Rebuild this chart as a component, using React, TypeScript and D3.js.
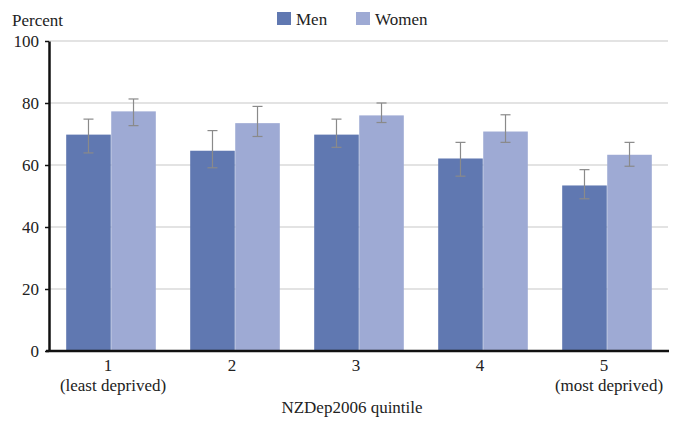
import React, { useEffect, useRef } from 'react';
import * as d3 from 'd3';

const quintiles = ['1', '2', '3', '4', '5'];
const subLabels = ['(least  deprived)', '', '', '', '(most deprived)'];
const menValues = [69.8, 64.6, 69.8, 62.1, 53.4];
const menLow = [63.9, 59.1, 65.7, 56.4, 49.1];
const menHigh = [74.8, 71.1, 74.8, 67.3, 58.5];
const womenValues = [77.3, 73.5, 76.0, 70.8, 63.3];
const womenLow = [72.7, 69.2, 73.7, 67.3, 59.6];
const womenHigh = [81.3, 78.9, 80.0, 76.2, 67.3];
const yTicks = [0, 20, 40, 60, 80, 100];

const App = () => {
  const chartRef = useRef<SVGSVGElement>(null);

  useEffect(() => {
    const svg = d3.select(chartRef.current);
    svg.selectAll('*').remove();

    const width = 677;
    const height = 421;
    const margin = { top: 41, right: 8, bottom: 70, left: 49 };
    const font = "'Liberation Serif', 'DejaVu Serif', serif";
    const fs = 17;

    const series = [
      { name: 'Men', values: menValues, low: menLow, high: menHigh, color: '#6078b1' },
      { name: 'Women', values: womenValues, low: womenLow, high: womenHigh, color: '#9eaad4' },
    ];

    const x = d3.scaleBand()
      .domain(quintiles)
      .range([margin.left, width - margin.right])
      .paddingInner(0.27)
      .paddingOuter(0.135);

    const xs = d3.scaleBand()
      .domain(series.map(s => s.name))
      .range([0, x.bandwidth()])
      .padding(0.01);

    const y = d3.scaleLinear()
      .domain([0, 100])
      .range([height - margin.bottom, margin.top]);

    // gridlines
    svg.append('g')
      .selectAll('line')
      .data(yTicks.filter(d => d > 0))
      .join('line')
        .attr('x1', margin.left)
        .attr('x2', width - 9)
        .attr('y1', d => y(d))
        .attr('y2', d => y(d))
        .attr('stroke', '#c8c8c8')
        .attr('stroke-width', 1.2);

    // bars
    series.forEach(s => {
      svg.append('g')
        .selectAll('rect')
        .data(quintiles)
        .join('rect')
          .attr('x', (d) => (x(d) as number) + (xs(s.name) as number))
          .attr('y', (d, i) => y(s.values[i]))
          .attr('width', xs.bandwidth())
          .attr('height', (d, i) => y(0) - y(s.values[i]))
          .attr('fill', s.color);
    });

    // error bars
    series.forEach(s => {
      const g = svg.append('g').attr('stroke', '#8a8a8a').attr('stroke-width', 1.2);
      quintiles.forEach((d, i) => {
        const cx = (x(d) as number) + (xs(s.name) as number) + xs.bandwidth() / 2;
        g.append('line')
          .attr('x1', cx).attr('x2', cx)
          .attr('y1', y(s.low[i])).attr('y2', y(s.high[i]));
        g.append('line')
          .attr('x1', cx - 5).attr('x2', cx + 5)
          .attr('y1', y(s.high[i])).attr('y2', y(s.high[i]));
        g.append('line')
          .attr('x1', cx - 5).attr('x2', cx + 5)
          .attr('y1', y(s.low[i])).attr('y2', y(s.low[i]));
      });
    });

    // y axis
    const yAxis = svg.append('g')
      .attr('transform', `translate(${margin.left},0)`)
      .call(d3.axisLeft(y).tickValues(yTicks).tickSize(4).tickPadding(6).tickSizeOuter(0));
    yAxis.select('.domain').attr('stroke', '#111').attr('stroke-width', 2.5);
    yAxis.selectAll('.tick line').attr('stroke', '#111').attr('stroke-width', 1.5);
    yAxis.selectAll('.tick text')
      .style('font-family', font)
      .style('font-size', fs + 'px')
      .attr('fill', '#222');

    // x axis line
    svg.append('line')
      .attr('x1', margin.left - 3)
      .attr('x2', width - 8)
      .attr('y1', y(0))
      .attr('y2', y(0))
      .attr('stroke', '#111')
      .attr('stroke-width', 2.5);

    // x labels
    const xl = svg.append('g')
      .style('font-family', font)
      .style('font-size', fs + 'px')
      .attr('fill', '#222')
      .attr('text-anchor', 'middle')
      .style('white-space', 'pre');
    xl.selectAll('text.q')
      .data(quintiles)
      .join('text')
        .attr('class', 'q')
        .attr('x', d => (x(d) as number) + x.bandwidth() / 2 - 3)
        .attr('y', y(0) + 20)
        .text(d => d);
    xl.selectAll('text.s')
      .data(quintiles)
      .join('text')
        .attr('class', 's')
        .attr('x', d => (x(d) as number) + x.bandwidth() / 2 + 2)
        .attr('y', y(0) + 40)
        .text((d, i) => subLabels[i]);
    xl.append('text')
      .attr('x', 352)
      .attr('y', y(0) + 62)
      .text('NZDep2006 quintile');

    // y title
    svg.append('text')
      .attr('x', 12)
      .attr('y', 26)
      .style('font-family', font)
      .style('font-size', fs + 'px')
      .attr('fill', '#222')
      .text('Percent');

    // legend
    const legendX = [277, 356];
    series.forEach((s, i) => {
      svg.append('rect')
        .attr('x', legendX[i])
        .attr('y', 12)
        .attr('width', 14)
        .attr('height', 13)
        .attr('fill', s.color);
      svg.append('text')
        .attr('x', legendX[i] + 19)
        .attr('y', 25)
        .style('font-family', font)
        .style('font-size', fs + 'px')
        .attr('fill', '#222')
        .text(s.name);
    });
  }, []);

  return (
    <svg
      ref={chartRef}
      width="677"
      height="421"
      style={{ position: 'absolute', left: 0, top: 0, background: '#fff' }}
    ></svg>
  );
};

export default App;
